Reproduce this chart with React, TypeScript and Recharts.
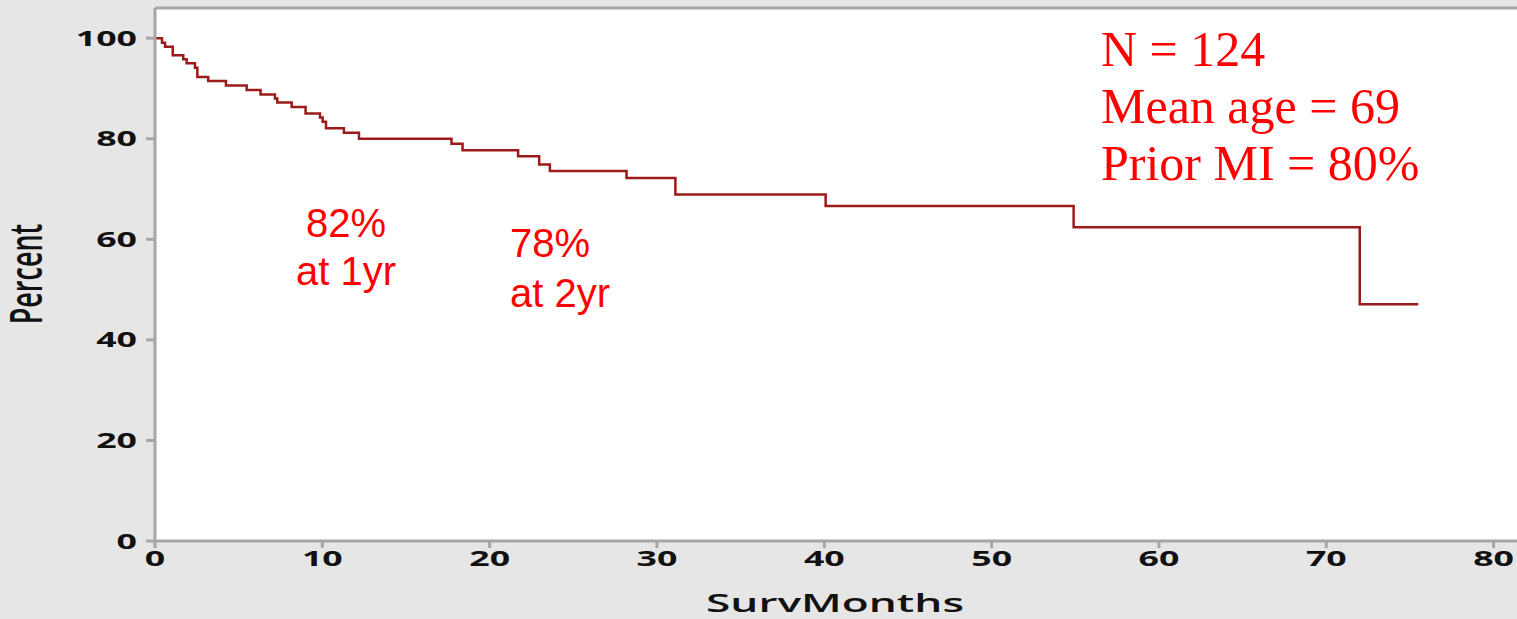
import React from 'react';
import { CartesianGrid, Line, LineChart, ReferenceLine, XAxis, YAxis } from 'recharts';

// Kaplan-Meier estimate (months, percent surviving)
const MONTHS = [
  0, 0.42, 0.6, 1.06, 1.69, 1.89, 2.39, 2.53, 3.18, 4.24, 5.48, 6.31, 7.17, 7.31, 8.17, 9.0,
  9.86, 10.02, 10.22, 11.29, 12.19, 17.72, 18.38, 21.7, 22.96, 23.6, 28.18, 31.1, 40.08, 54.9,
  72.0, 75.5,
];
const SURVIVAL = [
  100, 99.1, 98.3, 96.6, 95.8, 95.0, 94.1, 92.3, 91.5, 90.6, 89.7, 88.8, 88.0, 87.2, 86.3, 85.0,
  84.2, 83.4, 82.1, 81.2, 80.0, 79.0, 77.7, 76.5, 74.9, 73.6, 72.2, 68.9, 66.6, 62.4,
  47.1, 47.1,
];
const X_TICKS = [0, 10, 20, 30, 40, 50, 60, 70, 80];
const Y_TICKS = [0, 20, 40, 60, 80, 100];
const STATS = ['N = 124', 'Mean age = 69', 'Prior MI = 80%'];
const ONE_YEAR = ['82%', 'at 1yr'];
const TWO_YEAR = ['78%', 'at 2yr'];

// plot runs past the right edge of the picture, like the cropped original
const X_MAX = 86;
const Y_MAX = 106;
const SX = 1.7; // the source picture is stretched sideways
const AXIS_GRAY = '#a6a6a6';
const LABEL_FONT = '"Open Sans", sans-serif';
const RED = '#ff0000';

const chartData = MONTHS.map((m, i) => ({ month: m, pct: SURVIVAL[i] }));

const YTick = (props: any) => {
  const { x, y, payload } = props;
  return (
    <g transform={`translate(${x},${y})`}>
      <text transform={`scale(${SX},1)`} textAnchor="end" dy="0.36em" fontFamily={LABEL_FONT}
        fontWeight={700} fontSize={21} fill="#111">{payload.value}</text>
    </g>
  );
};

const XTick = (props: any) => {
  const { x, y, payload } = props;
  return (
    <g transform={`translate(${x},${y})`}>
      <text transform={`scale(${SX},1)`} textAnchor="middle" dy="0.72em" fontFamily={LABEL_FONT}
        fontWeight={700} fontSize={21} fill="#111">{payload.value}</text>
    </g>
  );
};

const noteBox = (left: number, top: number, lineHeight: number, extra: React.CSSProperties) => ({
  position: 'absolute' as const, left, top, lineHeight: `${lineHeight}px`, color: RED,
  whiteSpace: 'nowrap' as const, ...extra,
});

export default function App() {
  return (
    <div style={{ position: 'absolute', left: 0, top: 0, width: 1517, height: 619, overflow: 'hidden', background: '#e6e6e6' }}>
      <div style={{ position: 'absolute', left: 155, top: 8, right: 0, height: 533, background: '#ffffff' }} />
      <LineChart width={1596} height={619} data={chartData} margin={{ top: 8, right: 2, left: 0, bottom: 0 }}>
        <CartesianGrid horizontal={false} vertical={false} fill="#ffffff" />
        <XAxis dataKey="month" type="number" domain={[0, X_MAX]} ticks={X_TICKS} height={78}
          axisLine={{ stroke: AXIS_GRAY, strokeWidth: 3 }}
          tickLine={{ stroke: AXIS_GRAY, strokeWidth: 3 }} tickSize={7} tickMargin={3}
          tick={<XTick />} />
        <YAxis type="number" domain={[0, Y_MAX]} ticks={Y_TICKS} width={155}
          axisLine={{ stroke: AXIS_GRAY, strokeWidth: 3 }}
          tickLine={{ stroke: AXIS_GRAY, strokeWidth: 3 }} tickSize={9} tickMargin={9}
          tick={<YTick />} />
        <ReferenceLine y={Y_MAX} stroke={AXIS_GRAY} strokeWidth={3} />
        <Line dataKey="pct" type="stepAfter" stroke="#9b1b1b" strokeWidth={2.5} dot={false}
          isAnimationActive={false} />
      </LineChart>
      <svg width={1517} height={619} style={{ position: 'absolute', left: 0, top: 0, display: 'block', pointerEvents: 'none' }}>
        <g transform={`translate(835,612) scale(${SX},1)`}>
          <text textAnchor="middle" fontFamily={LABEL_FONT} fontWeight={600} fontSize={26} fill="#111">SurvMonths</text>
        </g>
        <g transform={`translate(42,274) scale(${SX},1) rotate(-90)`}>
          <text textAnchor="middle" fontFamily={LABEL_FONT} fontWeight={600} fontSize={27} fill="#111">Percent</text>
        </g>
      </svg>
      <div style={noteBox(1101, 21, 57, { fontFamily: '"Liberation Serif", serif', fontSize: 50 })}>
        {STATS.map((s) => <div key={s}>{s}</div>)}
      </div>
      <div style={noteBox(246, 199, 48, { width: 200, textAlign: 'center', fontFamily: '"Liberation Sans", Arial, sans-serif', fontSize: 40 })}>
        {ONE_YEAR.map((s) => <div key={s}>{s}</div>)}
      </div>
      <div style={noteBox(510, 218, 50, { fontFamily: '"Liberation Sans", Arial, sans-serif', fontSize: 40 })}>
        {TWO_YEAR.map((s) => <div key={s}>{s}</div>)}
      </div>
    </div>
  );
}
